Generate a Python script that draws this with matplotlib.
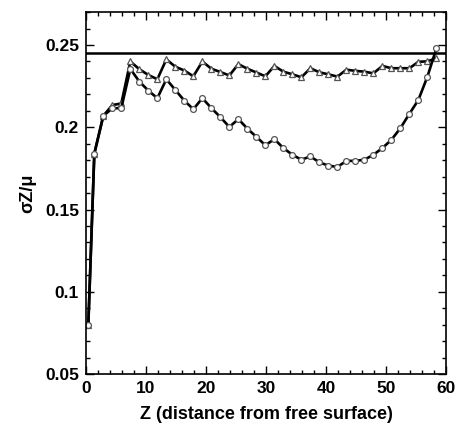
import matplotlib
matplotlib.use("Agg")
import matplotlib.pyplot as plt
from matplotlib.ticker import MultipleLocator

plt.rcParams['font.family'] = ['Liberation Sans', 'DejaVu Sans']

# depth positions (distance from free surface)
z = [0.4] + [1.4 + 1.5 * k for k in range(39)]

# triangle series
tri = [0.080, 0.184, 0.207, 0.2135, 0.2145, 0.2400, 0.2353, 0.2318, 0.2292, 0.2413,
       0.2368, 0.2345, 0.2310, 0.2400, 0.2356, 0.2336, 0.2315, 0.2384, 0.2356, 0.2333,
       0.2310, 0.2373, 0.2338, 0.2322, 0.2304, 0.2359, 0.2334, 0.2322, 0.2308, 0.2350,
       0.2343, 0.2338, 0.2328, 0.2373, 0.2359, 0.2359, 0.2359, 0.2398, 0.2401, 0.2420]

# circle series
circ = [0.080, 0.184, 0.207, 0.2115, 0.2117, 0.2355, 0.2278, 0.2223, 0.2177, 0.2292,
        0.2227, 0.2162, 0.2110, 0.2177, 0.2117, 0.2062, 0.2002, 0.2050, 0.1992, 0.1942,
        0.1891, 0.1928, 0.1874, 0.1833, 0.1803, 0.1823, 0.1787, 0.1767, 0.1759, 0.1796,
        0.1796, 0.1803, 0.1833, 0.1874, 0.1924, 0.1995, 0.2082, 0.2167, 0.2308, 0.2480]

limit = 0.245

fig = plt.figure(figsize=(4.57, 4.33), dpi=100)
ax = fig.add_axes([0.188, 0.136, 0.788, 0.836])

ax.axhline(limit, color='black', lw=1.8)
ax.plot(z, tri, color='black', lw=1.9, marker='^', markersize=4,
        markerfacecolor='white', markeredgecolor='#555555', markeredgewidth=0.9)
ax.plot(z, circ, color='black', lw=1.9, marker='o', markersize=4.2,
        markerfacecolor='white', markeredgecolor='#555555', markeredgewidth=0.9)

ax.set_xlim(0, 60)
ax.set_ylim(0.05, 0.27)
ax.set_xticks([0, 10, 20, 30, 40, 50, 60])
ax.set_yticks([0.05, 0.1, 0.15, 0.2, 0.25])
ax.set_yticklabels(['0.05', '0.1', '0.15', '0.2', '0.25'])
ax.xaxis.set_minor_locator(MultipleLocator(2))
ax.yaxis.set_minor_locator(MultipleLocator(0.01))
ax.tick_params(which='both', direction='in', top=True, right=True, width=1)
ax.tick_params(which='major', length=6, labelsize=12.5, pad=5)
ax.tick_params(which='minor', length=3)
for lab in ax.get_xticklabels() + ax.get_yticklabels():
    lab.set_fontweight('bold')
for sp in ax.spines.values():
    sp.set_linewidth(1.2)

ax.set_xlabel("Z (distance from free surface)", fontsize=13, fontweight='bold', labelpad=7)
ax.set_ylabel("σZ/μ", fontsize=13, fontweight='bold', labelpad=6)

fig.savefig("out.png", dpi=100)
